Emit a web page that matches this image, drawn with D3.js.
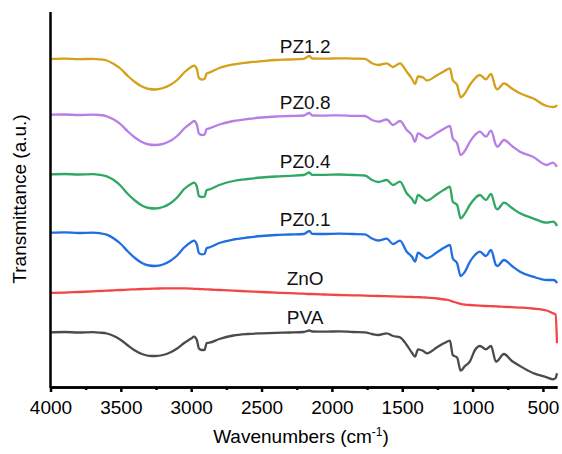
<!DOCTYPE html>
<meta charset="utf-8">
<style>
body { margin: 0; background: #fff; }
svg { font-family: "Liberation Sans", Arial, sans-serif; }
.axis path, .axis line { fill: none; stroke: #000; stroke-width: 2.5px; }
.axis text { font-size: 19px; fill: #000; }
.spec { fill: none; stroke-width: 2.3px; stroke-linejoin: round; }
.lbl { font-size: 19px; fill: #111; text-anchor: middle; }
</style>
<body></body>
<script src="https://cdnjs.cloudflare.com/ajax/libs/d3/7.8.5/d3.min.js"></script>
<script>
// wavenumbers (cm-1), shared by every spectrum
var wn = [4000, 3900, 3800, 3700, 3650, 3600, 3550, 3500, 3450, 3400,
  3350, 3300, 3257, 3200, 3150, 3100, 3050, 3000, 2980, 2960,
  2945, 2925, 2905, 2890, 2870, 2800, 2700, 2600, 2500, 2400,
  2300, 2200, 2160, 2140, 2050, 1950, 1850, 1765, 1715, 1670,
  1610, 1566, 1516, 1468, 1430, 1409, 1388, 1353, 1326, 1250,
  1200, 1161, 1141, 1110, 1085, 1054, 1020, 983, 948, 905,
  869, 834, 824, 777, 720, 663, 571, 473, 428, 410, 400];

// transmittance (a.u., stacked)
var pz12 = [341, 341.3, 340.8, 341.2, 340.7, 339.5, 336, 331, 324, 318,
  313.5, 311, 310.5, 312, 315, 320, 327.5, 333, 334.3, 331,
  322, 320.5, 321, 326.5, 327.5, 332, 335.5, 337.5, 338.8, 340,
  340.5, 341.2, 344, 341.5, 341.3, 341.7, 341.4, 341.2, 336.7, 335,
  336.7, 333, 336.7, 328.3, 321, 316, 323.5, 322.7, 319.5, 325,
  329, 331.7, 320, 315, 302.7, 306.7, 315, 321.7, 325, 320.7,
  326, 311.7, 310.7, 316.7, 311.5, 306.7, 301.7, 294, 293, 293.5, 295];

var pz08 = [285.3, 285.5, 285, 285.4, 285, 283.7, 280.5, 275.5, 268.5, 262.5,
  258, 255.5, 255, 256.2, 259, 264, 271.5, 277, 279, 275.5,
  266.5, 265, 265.3, 271, 271.7, 275.5, 279, 281, 282.5, 283.5,
  284, 284.5, 287, 284.5, 284.4, 284.7, 284.2, 284, 280, 278.3,
  280.5, 275, 279, 270, 264.5, 258.3, 266.7, 264, 261.7, 267.5,
  271.5, 274, 261.7, 256.7, 245, 249.3, 258, 265, 268.3, 263.3,
  269.3, 255, 253.3, 260, 254, 248.3, 243.3, 235, 237.3, 235, 233.3];

var pz04 = [225.7, 226, 225.5, 225.8, 225.2, 223.7, 220, 214, 206, 199.5,
  194.5, 192, 191.5, 193, 196.5, 202.5, 211, 216, 217.3, 213.5,
  204, 203, 203.3, 210, 210.7, 215, 219, 221, 222.5, 223.5,
  224.2, 225, 227.5, 225.2, 225.2, 225.5, 225, 224.5, 220, 218,
  220, 215, 218.3, 206.7, 201, 196.7, 205, 201.7, 199.3, 206,
  210.5, 213.3, 198.3, 195, 181.7, 186.7, 195, 201.7, 205, 200,
  206, 191.7, 190.7, 197.3, 192, 186.7, 181.7, 177.3, 178.3, 176.5, 174];

var pz01 = [167.3, 167.6, 167, 167.4, 166.8, 165.3, 161.5, 156, 148.5, 142,
  137, 134.5, 134, 135.5, 139, 144.5, 152.5, 158, 159.3, 155.5,
  147, 145.7, 146, 152, 152.7, 157, 160.5, 162.5, 164, 165,
  165.5, 166, 169, 166.2, 166, 166.3, 166, 165.7, 161.5, 159.5,
  161.3, 156, 159.3, 148.3, 143, 138.3, 147.3, 144, 141.7, 148,
  152.5, 155, 141.7, 136.7, 124, 128.3, 138, 145, 148.3, 144,
  150, 135, 134, 140, 134, 128.3, 123.3, 120, 120, 119, 116.7];

var zno = [107, 107.4, 108, 108.6, 109, 109.3, 109.7, 110, 110.4, 110.7,
  111, 111.2, 111.4, 111.6, 111.7, 111.7, 111.6, 111.4, 111.2, 111.1,
  111, 110.9, 110.7, 110.6, 110.5, 110, 109.3, 108.7, 108, 107.4,
  106.8, 106.3, 106, 106, 105.5, 105, 104.7, 104.4, 104.2, 104,
  103.8, 103.6, 103.4, 103.2, 103, 102.9, 102.8, 102.7, 102.4, 101.5,
  100.5, 99.5, 98.5, 97.2, 96.2, 95.4, 95, 94.6, 94.3, 94,
  93.8, 93.6, 93.5, 93.2, 92.8, 92.4, 91.5, 89.5, 86.7, 85.5, 56.7];

var pva = [67.7, 68, 67.5, 67.9, 67.4, 66.5, 64, 60, 54.5, 49.5,
  46, 44.2, 44, 45, 47.5, 51.5, 57, 61.5, 63.3, 60,
  51.5, 50, 50.2, 57, 57.3, 61, 64.5, 66, 66.7, 67.2,
  67.5, 68, 69.5, 68.5, 68.3, 68.7, 68, 67.7, 66, 65,
  66.7, 64, 62.7, 55, 47, 43.3, 50.7, 49.3, 46.7, 53,
  57, 59.3, 45, 42.5, 29.3, 34, 38.3, 50, 54, 50.7,
  54, 38.3, 39, 46, 39, 34, 27, 22.7, 20.7, 22, 26.7];

var names = ["PZ1.2", "PZ0.8", "PZ0.4", "PZ0.1", "ZnO", "PVA"];
var colors = ["#d5a11a", "#b77ee6", "#2fa864", "#1f6fe3", "#f24646", "#4b4b4b"];
var labelY = [347.3, 290.7, 232.3, 174.3, 115, 75.7];   // label baselines, same units as spectra
var majorTicks = [4000, 3500, 3000, 2500, 2000, 1500, 1000, 500];
var minorTicks = [3750, 3250, 2750, 2250, 1750, 1250, 750];

var W = 562, H = 454;
var svg = d3.select("body").append("svg").attr("width", W).attr("height", H);

var x = d3.scaleLinear().domain([4000, 400]).range([50.5, 557]);
var y = d3.scaleLinear().domain([13, 388]).range([387, 12]);

var series = [pz12, pz08, pz04, pz01, zno, pva];
var line = d3.line()
    .x(function(d, i) { return x(wn[i]); })
    .y(function(d) { return y(d); })
    .curve(d3.curveMonotoneX);

svg.selectAll(".spec")
    .data(series)
    .enter().append("path")
    .attr("class", "spec")
    .attr("stroke", function(d, i) { return colors[i]; })
    .attr("d", line);

svg.selectAll(".lbl")
    .data(names)
    .enter().append("text")
    .attr("class", "lbl")
    .attr("x", x(2190))
    .attr("y", function(d, i) { return y(labelY[i]); })
    .text(function(d) { return d; });

// x axis, major + minor ticks
svg.append("g")
    .attr("class", "axis")
    .attr("transform", "translate(0,387)")
    .call(d3.axisBottom(x).tickValues(minorTicks).tickSize(3).tickSizeOuter(0).tickFormat(""));

var xa = svg.append("g")
    .attr("class", "axis")
    .attr("transform", "translate(0,387)")
    .call(d3.axisBottom(x).tickValues(majorTicks).tickSize(5).tickSizeOuter(0)
      .tickPadding(9).tickFormat(d3.format("d")));
xa.selectAll("text").attr("dy", "0.71em");

// y axis line only
svg.append("line")
    .attr("x1", 50.5).attr("x2", 50.5)
    .attr("y1", 12).attr("y2", 388)
    .attr("stroke", "#000").attr("stroke-width", 2.5);

var xt = svg.append("text")
    .attr("x", 301).attr("y", 443)
    .attr("text-anchor", "middle")
    .style("font-size", "19px");
xt.append("tspan").text("Wavenumbers (cm");
xt.append("tspan").attr("dy", -7).style("font-size", "12px").text("-1");
xt.append("tspan").attr("dy", 7).text(")");

svg.append("text")
    .attr("transform", "translate(26,199) rotate(-90)")
    .attr("text-anchor", "middle")
    .style("font-size", "19px")
    .text("Transmittance (a.u.)");
</script>
